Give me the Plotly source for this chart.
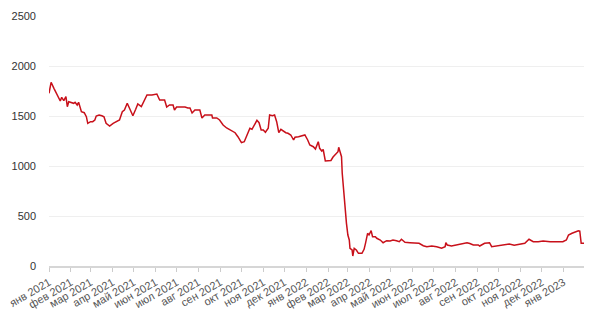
import plotly.graph_objects as go

dates = [
    "2021-01-01", "2021-01-04", "2021-01-08", "2021-01-11", "2021-01-15", "2021-01-17", "2021-01-19",
    "2021-01-22", "2021-01-25", "2021-01-27", "2021-01-29", "2021-02-02", "2021-02-05", "2021-02-07",
    "2021-02-10", "2021-02-12", "2021-02-16", "2021-02-20", "2021-02-23", "2021-02-25", "2021-03-01",
    "2021-03-04", "2021-03-07", "2021-03-09", "2021-03-13", "2021-03-17", "2021-03-20", "2021-03-23",
    "2021-03-28", "2021-04-02", "2021-04-07", "2021-04-11", "2021-04-15", "2021-04-18", "2021-04-22",
    "2021-04-24", "2021-04-28", "2021-04-30", "2021-05-04", "2021-05-07", "2021-05-12", "2021-05-16",
    "2021-05-20", "2021-05-27", "2021-06-03", "2021-06-07", "2021-06-14", "2021-06-17", "2021-06-21",
    "2021-06-26", "2021-06-28", "2021-07-01", "2021-07-07", "2021-07-13", "2021-07-17", "2021-07-20",
    "2021-07-23", "2021-07-27", "2021-08-03", "2021-08-06", "2021-08-10", "2021-08-20", "2021-08-21",
    "2021-08-27", "2021-08-31", "2021-09-05", "2021-09-10", "2021-09-15", "2021-09-22", "2021-09-26",
    "2021-10-01", "2021-10-05", "2021-10-09", "2021-10-13", "2021-10-16", "2021-10-20", "2021-10-23",
    "2021-10-26", "2021-10-29", "2021-11-01", "2021-11-04", "2021-11-08", "2021-11-10", "2021-11-14",
    "2021-11-17", "2021-11-20", "2021-11-23", "2021-11-26", "2021-11-29", "2021-12-03", "2021-12-06",
    "2021-12-10", "2021-12-14", "2021-12-16", "2021-12-21", "2021-12-25", "2021-12-30", "2022-01-03",
    "2022-01-06", "2022-01-11", "2022-01-14", "2022-01-18", "2022-01-20", "2022-01-23", "2022-01-25",
    "2022-01-28", "2022-02-01", "2022-02-05", "2022-02-08", "2022-02-12", "2022-02-15", "2022-02-16",
    "2022-02-19", "2022-02-20", "2022-02-21", "2022-02-23", "2022-02-25", "2022-02-27", "2022-03-01",
    "2022-03-03", "2022-03-04", "2022-03-07", "2022-03-08", "2022-03-10", "2022-03-13", "2022-03-16",
    "2022-03-21", "2022-03-24", "2022-03-26", "2022-03-29", "2022-03-31", "2022-04-03", "2022-04-05",
    "2022-04-09", "2022-04-11", "2022-04-16", "2022-04-20", "2022-04-25", "2022-04-30", "2022-05-04",
    "2022-05-09", "2022-05-13", "2022-05-16", "2022-05-21", "2022-05-28", "2022-06-04", "2022-06-10",
    "2022-06-16", "2022-06-21", "2022-06-28", "2022-07-05", "2022-07-12", "2022-07-17", "2022-07-18",
    "2022-07-20", "2022-07-26", "2022-08-03", "2022-08-10", "2022-08-17", "2022-08-21", "2022-08-26",
    "2022-09-02", "2022-09-04", "2022-09-11", "2022-09-18", "2022-09-21", "2022-09-27", "2022-10-07",
    "2022-10-16", "2022-10-23", "2022-10-31", "2022-11-07", "2022-11-13", "2022-11-19", "2022-11-26",
    "2022-12-03", "2022-12-13", "2022-12-22", "2022-12-31", "2023-01-05", "2023-01-08", "2023-01-13",
    "2023-01-18", "2023-01-22", "2023-01-24", "2023-01-26", "2023-01-30",
]

prices = [
    1727, 1837, 1777, 1733, 1677, 1650, 1687,
    1653, 1693, 1593, 1643, 1633, 1627, 1637,
    1610, 1637, 1543, 1533, 1493, 1427, 1443,
    1443, 1460, 1500, 1510, 1503, 1493, 1427,
    1400, 1427, 1443, 1460, 1543, 1560, 1627,
    1593, 1527, 1503, 1567, 1620, 1593, 1653,
    1710, 1710, 1720, 1660, 1660, 1590, 1610,
    1610, 1560, 1590, 1590, 1590, 1580, 1580,
    1530, 1560, 1560, 1480, 1510, 1510, 1480,
    1480, 1460, 1410, 1380, 1360, 1333, 1293,
    1233, 1243, 1317, 1377, 1367, 1417, 1457,
    1433, 1360, 1360, 1337, 1377, 1510, 1503,
    1510, 1443, 1333, 1367, 1350, 1333, 1327,
    1310, 1260, 1287, 1293, 1300, 1310, 1260,
    1210, 1193, 1170, 1243, 1177, 1150, 1165,
    1050, 1050, 1055, 1090, 1120, 1143, 1187,
    1127, 1093, 927, 740, 593, 427, 310,
    260, 177, 160, 100, 177, 160, 127,
    127, 167, 227, 327, 310, 353, 293,
    293, 277, 260, 233, 253, 250, 260,
    253, 243, 267, 237, 233, 233, 227,
    203, 193, 200, 193, 177, 193, 233,
    210, 200, 210, 220, 233, 225, 210,
    210, 200, 227, 233, 193, 200, 207,
    220, 207, 220, 227, 267, 243, 243,
    250, 243, 243, 243, 260, 310, 327,
    343, 353, 350, 227, 227,
]

tick_dates = [
    "2021-01-01", "2021-02-01", "2021-03-01", "2021-04-01", "2021-05-01", "2021-06-01",
    "2021-07-01", "2021-08-01", "2021-09-01", "2021-10-01", "2021-11-01", "2021-12-01",
    "2022-01-01", "2022-02-01", "2022-03-01", "2022-04-01", "2022-05-01", "2022-06-01",
    "2022-07-01", "2022-08-01", "2022-09-01", "2022-10-01", "2022-11-01", "2022-12-01",
    "2023-01-01",
]
tick_labels = [
    "янв 2021", "фев 2021", "мар 2021", "апр 2021", "май 2021", "июн 2021",
    "июл 2021", "авг 2021", "сен 2021", "окт 2021", "ноя 2021", "дек 2021",
    "янв 2022", "фев 2022", "мар 2022", "апр 2022", "май 2022", "июн 2022",
    "июл 2022", "авг 2022", "сен 2022", "окт 2022", "ноя 2022", "дек 2022",
    "янв 2023",
]
y_ticks = [0, 500, 1000, 1500, 2000, 2500]

fig = go.Figure()
fig.add_trace(go.Scatter(
    x=dates, y=prices, mode="lines",
    line=dict(color="#c8101a", width=1.5),
    hoverinfo="skip", showlegend=False,
))

font_family = "Liberation Sans, Arial, Helvetica, sans-serif"
fig.update_layout(
    width=600, height=314,
    margin=dict(l=49, r=16, t=16, b=48, autoexpand=False),
    paper_bgcolor="white", plot_bgcolor="white",
    font=dict(family=font_family, size=11, color="#333333"),
)
fig.update_xaxes(
    type="date",
    range=[dates[0], dates[-1]],
    tickmode="array", tickvals=tick_dates, ticktext=tick_labels,
    tickangle=-30,
    tickfont=dict(size=11, color="#555555"),
    showgrid=False,
    showline=True, linecolor="#d6d6d6", linewidth=2,
    ticks="outside", ticklen=4, tickcolor="#cccccc", tickwidth=1,
    zeroline=False, automargin=False,
)
fig.update_yaxes(
    range=[0, 2500],
    tickmode="array", tickvals=y_ticks,
    tickfont=dict(size=11, color="#333333"),
    showgrid=True, gridcolor="#efefef", gridwidth=1,
    zeroline=False, showline=False,
    ticks="", ticklabelstandoff=12, automargin=False,
)

fig.write_html("out.html")
